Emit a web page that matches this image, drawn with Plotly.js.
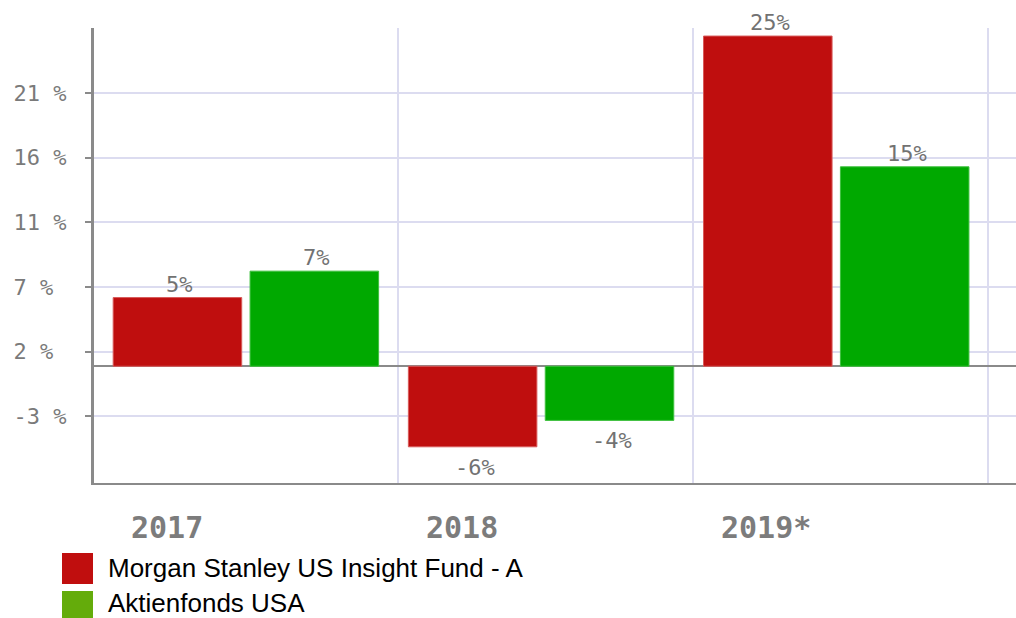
<!DOCTYPE html>
<html>
<head>
<meta charset="utf-8">
<script src="https://cdn.plot.ly/plotly-3.0.1.min.js"></script>
<style>
html,body{margin:0;padding:0;background:#fff;}
#chart{width:1016px;height:618px;}
</style>
</head>
<body>
<div id="chart"></div>
<script>
// ---- data ----
var categories = ['2017', '2018', '2019*'];
var seriesNames = ['Morgan Stanley US Insight Fund - A', 'Aktienfonds USA'];
var fundValues = [5.2, -6.1, 25.0];
var benchValues = [7.2, -4.1, 15.1];
var yTickVals = [-3.8, 1.1, 6.0, 10.9, 15.8, 20.7];
var yTickText = ['-3 %', '2 %', '7 %', '11 %', '16 %', '21 %'];

// ---- styling ----
var barColors = ['#BF0E0E', '#00A900'];
var barLineColors = ['#d85a5a', '#3fc03f'];
var legendColors = ['#C00E0E', '#64AC0B'];
var bargap = 0.0725;
var bargroupgap = 0.061;
var monoFont = 'DejaVu Sans Mono, monospace';

var xIdx = categories.map(function (c, i) { return i; });
var allSeries = [fundValues, benchValues];

var traces = allSeries.map(function (vals, s) {
  return {
    type: 'bar',
    name: seriesNames[s],
    x: xIdx,
    y: vals,
    marker: { color: barColors[s], line: { color: barLineColors[s], width: 1 } },
    hoverinfo: 'none',
    showlegend: false
  };
});

// pad labels with nbsp so monospace labels appear left-aligned
var maxLen = Math.max.apply(null, yTickText.map(function (t) { return t.length; }));
var paddedTicks = yTickText.map(function (t) {
  var p = t;
  while (p.length < maxLen) p += '\u00A0';
  return p;
});

var annotations = [];
// value labels
var slot = (1 - bargap) / allSeries.length;
allSeries.forEach(function (vals, s) {
  var off = -(1 - bargap) / 2 + slot * (s + 0.5);
  vals.forEach(function (v, i) {
    var pos = v >= 0;
    annotations.push({
      x: i + off, y: v, xref: 'x', yref: 'y',
      text: Math.round(v) + '%',
      showarrow: false,
      xanchor: 'center',
      yanchor: pos ? 'bottom' : 'top',
      yshift: pos ? -1 : -6,
      xshift: 2,
      font: { family: monoFont, size: 22, color: '#727272' }
    });
  });
});
// category labels
categories.forEach(function (c, i) {
  annotations.push({
    x: i, y: 0, xref: 'x', yref: 'paper',
    text: c, showarrow: false,
    xanchor: 'left', yanchor: 'middle',
    xshift: -117, yshift: -44,
    font: { family: monoFont, size: 30, color: '#7c7c7c', weight: 'bold' }
  });
});
// custom legend
var shapes = [];
seriesNames.forEach(function (n, s) {
  var top = 70 + s * 38;
  shapes.push({
    type: 'rect', xref: 'paper', yref: 'paper',
    xsizemode: 'pixel', ysizemode: 'pixel',
    xanchor: 0, yanchor: 0,
    x0: -32, x1: -1, y0: -top, y1: -top - 31,
    fillcolor: legendColors[s], line: { width: 0 }
  });
  annotations.push({
    x: 0, y: 0, xref: 'paper', yref: 'paper',
    text: n, showarrow: false,
    xanchor: 'left', yanchor: 'middle',
    borderpad: 0,
    xshift: 13, yshift: -top - 15 + s * 3,
    font: { family: 'Liberation Sans, Arial, sans-serif', size: 26, color: '#000' }
  });
});

var yRange = [-8.84, 25.61];
var layout = {
  width: 1016, height: 618,
  margin: { l: 94, r: 0, t: 28, b: 135, pad: 0 },
  paper_bgcolor: '#fff', plot_bgcolor: '#fff',
  barmode: 'group', bargap: bargap, bargroupgap: bargroupgap,
  showlegend: false,
  xaxis: {
    type: 'linear',
    range: [-0.5146, 2.609],
    tickvals: xIdx.map(function (i) { return i + 0.515; }),
    showticklabels: false,
    ticks: '',
    showgrid: true, gridcolor: '#dcdcf0', gridwidth: 2,
    zeroline: false,
    showline: true, linecolor: '#8a8a8a', linewidth: 2,
    fixedrange: true
  },
  yaxis: {
    range: yRange,
    tickvals: yTickVals, ticktext: paddedTicks,
    ticks: 'outside', ticklen: 6, tickwidth: 2, tickcolor: '#8a8a8a',
    ticklabelstandoff: 14,
    tickfont: { family: monoFont, size: 22, color: '#7a7a7a' },
    showgrid: true, gridcolor: '#dcdcf0', gridwidth: 2,
    zeroline: true, zerolinecolor: '#8a8a8a', zerolinewidth: 2,
    showline: true, linecolor: '#8a8a8a', linewidth: 3,
    fixedrange: true
  },
  yaxis2: {
    overlaying: 'y', anchor: 'x', side: 'left',
    range: yRange, tickvals: yTickVals,
    ticks: 'inside', ticklen: 6, tickwidth: 2, tickcolor: '#8a8a8a',
    showticklabels: false, showgrid: false, zeroline: false, showline: false,
    fixedrange: true
  },
  annotations: annotations,
  shapes: shapes
};

Plotly.newPlot('chart', traces, layout, { displayModeBar: false, staticPlot: true });
</script>
</body>
</html>
